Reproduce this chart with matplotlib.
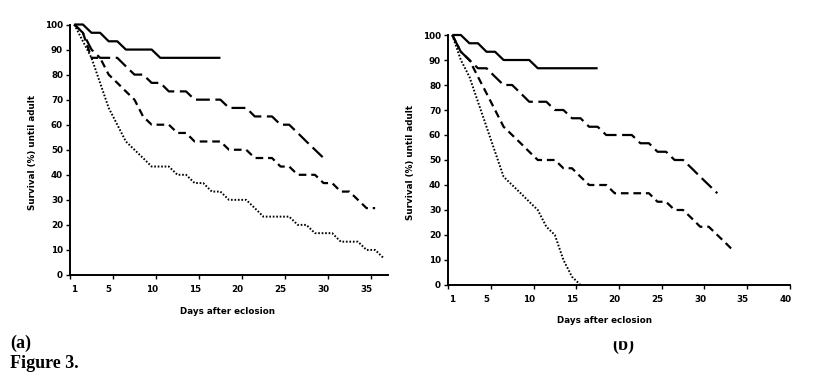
import matplotlib.pyplot as plt
import numpy as np
from matplotlib.patches import Rectangle

# Survival (%) until adult, one value per day after eclosion (day 1 onward).
A_SOLID = [100, 100, 96.7, 96.7, 93.3, 93.3, 90, 90, 90, 90,
           86.7, 86.7, 86.7, 86.7, 86.7, 86.7, 86.7, 86.7]
A_LONG = [100, 96.7, 90, 86.7, 86.7, 86.7, 83.3, 80, 80, 76.7,
          76.7, 73.3, 73.3, 73.3, 70, 70, 70, 70, 66.7, 66.7,
          66.7, 63.3, 63.3, 63.3, 60, 60, 56.7, 53.3, 50, 46.7]
A_DASH = [100, 96.7, 86.7, 86.7, 80, 76.7, 73.3, 70, 63.3, 60,
          60, 60, 56.7, 56.7, 53.3, 53.3, 53.3, 53.3, 50, 50,
          50, 46.7, 46.7, 46.7, 43.3, 43.3, 40, 40, 40, 36.7,
          36.7, 33.3, 33.3, 30, 26.7, 26.7]
A_DOT = [100, 93.3, 86.7, 76.7, 66.7, 60, 53.3, 50, 46.7, 43.3,
         43.3, 43.3, 40, 40, 36.7, 36.7, 33.3, 33.3, 30, 30,
         30, 26.7, 23.3, 23.3, 23.3, 23.3, 20, 20, 16.7, 16.7,
         16.7, 13.3, 13.3, 13.3, 10, 10, 6.7]

B_SOLID = [100, 100, 96.7, 96.7, 93.3, 93.3, 90, 90, 90, 90,
           86.7, 86.7, 86.7, 86.7, 86.7, 86.7, 86.7, 86.7]
B_LONG = [100, 93.3, 90, 86.7, 86.7, 83.3, 80, 80, 76.7, 73.3,
          73.3, 73.3, 70, 70, 66.7, 66.7, 63.3, 63.3, 60, 60,
          60, 60, 56.7, 56.7, 53.3, 53.3, 50, 50, 46.7, 43.3,
          40, 36.7]
B_DASH = [100, 93.3, 90, 83.3, 76.7, 70, 63.3, 60, 56.7, 53.3,
          50, 50, 50, 46.7, 46.7, 43.3, 40, 40, 40, 36.7,
          36.7, 36.7, 36.7, 36.7, 33.3, 33.3, 30, 30, 26.7, 23.3,
          23.3, 20, 16.7, 13.3]
B_DOT = [100, 90, 83.3, 73.3, 63.3, 53.3, 43.3, 40, 36.7, 33.3,
         30, 23.3, 20, 10, 3.3, 0]

XLABELS_A = [1, 5, 10, 15, 20, 25, 30, 35]
XLABELS_B = [1, 5, 10, 15, 20, 25, 30, 35, 40]
NDAYS_A, NDAYS_B = 37, 40
YTICKS = [0, 10, 20, 30, 40, 50, 60, 70, 80, 90, 100]

plt.rcParams["lines.scale_dashes"] = False
SANS = ["DejaVu Sans"]
SERIF = ["Liberation Serif", "DejaVu Serif"]
FS = 6.3

STYLES = [
    dict(ls="-", lw=1.6),
    dict(ls=(0, (10, 4)), lw=1.6),
    dict(ls=(0, (5.5, 3.5)), lw=1.6),
    dict(ls=(0, (1.2, 1.3)), lw=1.4),
]


def panel(ax, series, xlabels, ndays):
    for vals, st in zip(series, STYLES):
        days = np.arange(1, len(vals) + 1)
        ax.plot(days, vals, color="black", solid_capstyle="butt",
                dash_capstyle="butt", clip_on=False, **st)
    ax.set_xlim(0.5, ndays + 0.5)
    ax.set_ylim(0, 100)
    for s in ("top", "right"):
        ax.spines[s].set_visible(False)
    for s in ("left", "bottom"):
        ax.spines[s].set_linewidth(1.4)
    ax.set_yticks(YTICKS)
    ax.set_yticklabels([str(v) for v in YTICKS], fontsize=FS,
                       fontweight="bold", family=SANS)
    ax.tick_params(axis="y", length=3, width=1, pad=2)
    # ticks between categories every 5 days, labels on the category
    ax.set_xticks(np.arange(0.5, ndays + 1, 5))
    ax.set_xticklabels([])
    ax.tick_params(axis="x", which="major", length=3, width=1)
    ax.set_xticks(xlabels, minor=True)
    ax.set_xticklabels([str(v) for v in xlabels], minor=True, fontsize=FS,
                       fontweight="bold", family=SANS)
    ax.tick_params(axis="x", which="minor", length=0, pad=7)


fig = plt.figure(figsize=(8.14, 3.83), dpi=100)
ax_a = fig.add_axes([0.0860, 0.2820, 0.3907, 0.6540])
ax_b = fig.add_axes([0.5504, 0.2559, 0.4201, 0.6527])

panel(ax_a, [A_SOLID, A_LONG, A_DASH, A_DOT], XLABELS_A, NDAYS_A)
panel(ax_b, [B_SOLID, B_LONG, B_DASH, B_DOT], XLABELS_B, NDAYS_B)

for ax, (xx, xy), (yx, yy) in [
    (ax_a, (0.494, -0.144), (-0.119, 0.49)),
    (ax_b, (0.459, -0.144), (-0.111, 0.49)),
]:
    ax.text(xx, xy, "Days after eclosion", transform=ax.transAxes,
            ha="center", va="center", fontsize=FS, fontweight="bold", family=SANS)
    ax.text(yx, yy, "Survival (%) until adult", transform=ax.transAxes,
            ha="center", va="center", rotation=90, fontsize=FS,
            fontweight="bold", family=SANS)

fig.text(10 / 814, 1 - 348 / 383, "(a)", fontsize=13, fontweight="bold",
         family=SERIF, va="baseline")
fig.text(623 / 814, 1 - 350 / 383, "(b)", fontsize=13, fontweight="bold",
         family=SERIF, va="baseline", ha="center")
# the scan cuts off the top of the "(b)" label
fig.patches.append(Rectangle((600 / 814, 1 - 340 / 383), 50 / 814, 12 / 383,
                             transform=fig.transFigure, color="white", zorder=5))
fig.text(10 / 814, 1 - 368.5 / 383, "Figure 3.", fontsize=13, fontweight="bold",
         family=SERIF, va="baseline")

fig.savefig("out.png", dpi=100, facecolor="white")
